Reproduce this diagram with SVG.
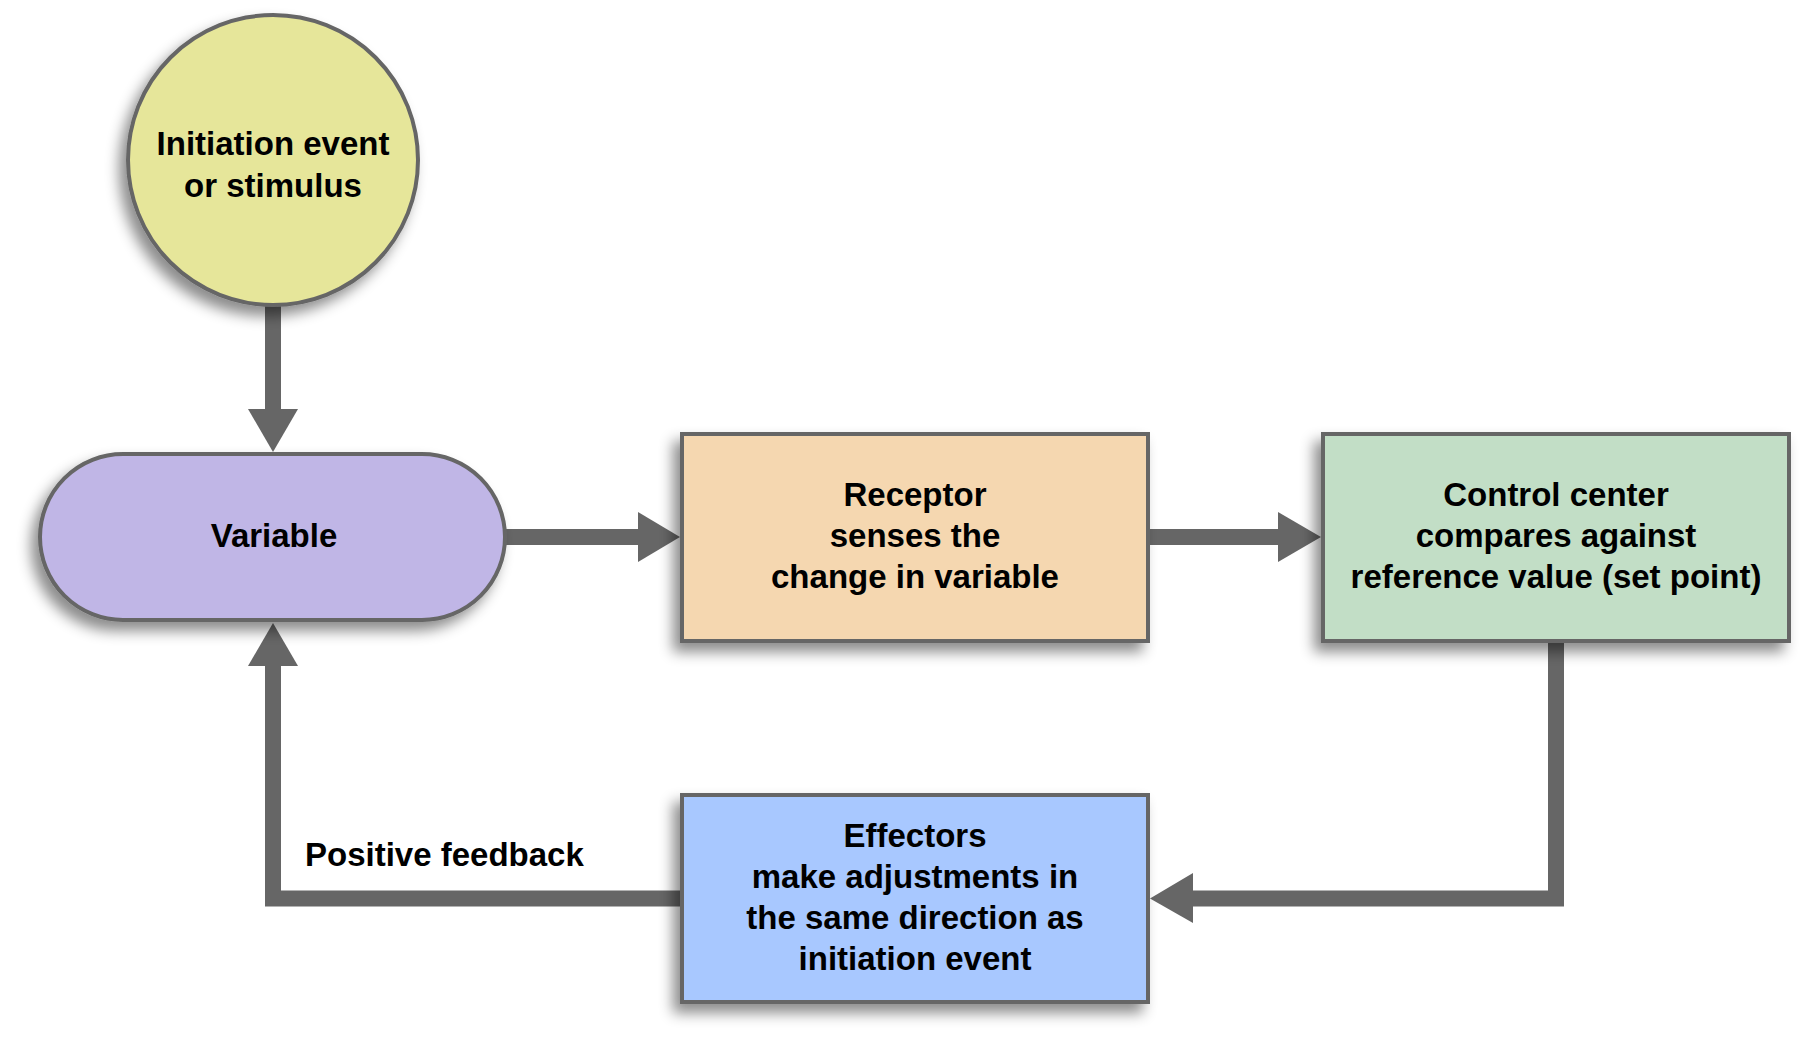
<svg xmlns="http://www.w3.org/2000/svg" width="1804" height="1043" viewBox="0 0 1804 1043">
<style>
.lbl{font-family:"Liberation Sans",Arial,Helvetica,sans-serif;font-weight:bold;font-size:33px;fill:#000;text-anchor:middle}
.node{stroke:#666666;stroke-width:4}
.wire{fill:none;stroke:#666666;stroke-width:16;stroke-linejoin:miter;stroke-linecap:butt}
.head{fill:#666666;stroke:none}
</style>
<defs>
<filter id="sh" x="-20%" y="-20%" width="140%" height="150%">
<feDropShadow dx="-7" dy="9" stdDeviation="7" flood-color="#000" flood-opacity="0.45"/>
</filter>
</defs>
<rect width="1804" height="1043" fill="#ffffff"/>
<g id="connectors">
<line class="wire" x1="273" y1="305" x2="273" y2="410"/>
<polygon class="head" points="248,409 298,409 273,452"/>
<line class="wire" x1="505" y1="537" x2="639" y2="537"/>
<polygon class="head" points="638,512 638,562 680,537"/>
<line class="wire" x1="1148" y1="537" x2="1279" y2="537"/>
<polygon class="head" points="1278,512 1278,562 1321,537"/>
<polyline class="wire" points="1556,641 1556,898.5 1192,898.5"/>
<polygon class="head" points="1193,873 1193,923 1150,898.5"/>
<polyline class="wire" points="682,898.5 273,898.5 273,665"/>
<polygon class="head" points="248,666 298,666 273,623"/>
</g>
<g id="node-initiation">
<circle class="node" cx="273" cy="160" r="145" fill="#e6e69a" filter="url(#sh)"/>
<text class="lbl" x="273" y="155">Initiation event</text>
<text class="lbl" x="273" y="197">or stimulus</text>
</g>
<g id="node-variable">
<rect class="node" x="40" y="454" width="465" height="166" rx="83" ry="83" fill="#c0b6e6" filter="url(#sh)"/>
<text class="lbl" x="274" y="547">Variable</text>
</g>
<g id="node-receptor">
<rect class="node" x="682" y="434" width="466" height="207" fill="#f5d7b0" filter="url(#sh)"/>
<text class="lbl" x="915" y="506">Receptor</text>
<text class="lbl" x="915" y="547">senses the</text>
<text class="lbl" x="915" y="588">change in variable</text>
</g>
<g id="node-control">
<rect class="node" x="1323" y="434" width="466" height="207" fill="#c2dec6" filter="url(#sh)"/>
<text class="lbl" x="1556" y="506">Control center</text>
<text class="lbl" x="1556" y="547">compares against</text>
<text class="lbl" x="1556" y="588">reference value (set point)</text>
</g>
<g id="node-effectors">
<rect class="node" x="682" y="795" width="466" height="207" fill="#a8c8ff" filter="url(#sh)"/>
<text class="lbl" x="915" y="847">Effectors</text>
<text class="lbl" x="915" y="888">make adjustments in</text>
<text class="lbl" x="915" y="929">the same direction as</text>
<text class="lbl" x="915" y="970">initiation event</text>
</g>
<g id="label-positive">
<text class="lbl" x="305" y="866" style="text-anchor:start">Positive feedback</text>
</g>
</svg>
